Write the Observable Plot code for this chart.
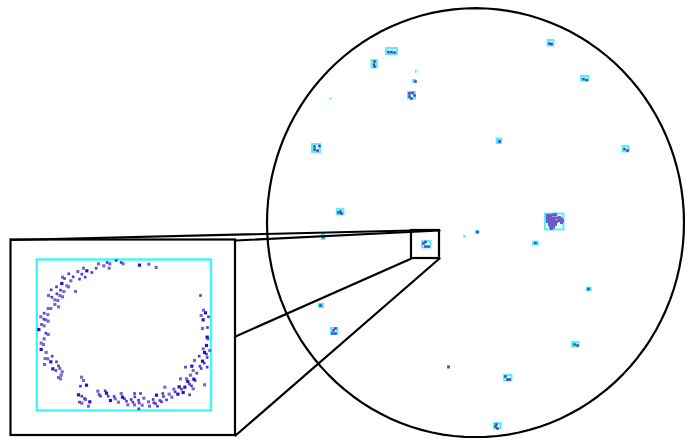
<!DOCTYPE html>
<html>
<head>
<meta charset="utf-8">
<script src="https://cdn.jsdelivr.net/npm/d3@7"></script>
<script src="https://cdn.jsdelivr.net/npm/@observablehq/plot@0.6"></script>
<style>html,body{margin:0;padding:0;background:#fff}svg{display:block}</style>
</head>
<body>
<script>
const pageWidth = 685, pageHeight = 438;
const outline = {cx: 475, cy: 222.2, rx: 208.5, ry: 214.5};
const frameX1 = [10.5, 411];
const frameX2 = [235, 439];
const frameY1 = [239.5, 230];
const frameY2 = [435, 258];
const insetBox = {x1: 36.8, x2: 211, y1: 259.5, y2: 410.5};
const connectors = [
  [[10.5,239.5],[411,230]],
  [[235,240],[439,230]],
  [[235,336],[411,258]],
  [[235,435],[439,258]]
];
// inset cells, read at 3x from origin (0,230)
const insetDark = [[417,104],[259,121],[184,159],[115,297],[122,357],[151,394],[157,415],[258,464],[318,488],[234,493],[366,500],[330,510],[268,514],[468,494],[532,491],[536,469],[553,470],[548,486],[562,453],[580,446],[574,407],[606,392],[612,366],[618,345],[620,320],[608,268],[615,247]];
const insetMid = [[347,90],[320,96],[362,96],[287,113],[244,131],[274,126],[205,130],[218,139],[254,140],[192,144],[237,146],[168,169],[152,178],[180,179],[225,183],[169,190],[154,200],[131,248],[130,266],[123,282],[136,308],[155,377],[168,394],[174,406],[166,420],[240,467],[314,481],[296,492],[300,497],[402,489],[420,489],[244,497],[252,504],[323,497],[341,498],[403,499],[372,505],[392,507],[414,509],[458,507],[237,515],[378,512],[397,515],[416,517],[460,517],[478,510],[483,514],[465,519],[471,527],[415,535],[498,508],[487,489],[489,498],[524,484],[543,476],[567,493],[567,461],[573,466],[584,450],[589,428],[555,410],[598,407],[602,414],[620,410],[611,398],[596,377],[620,381],[618,371],[621,291],[624,259],[600,195]];
const insetLight = [[294,100],[310,106],[328,100],[368,100],[445,101],[467,111],[326,113],[249,113],[232,123],[186,140],[211,151],[199,166],[204,169],[190,183],[178,195],[144,195],[186,199],[163,208],[172,210],[163,222],[174,229],[143,234],[151,234],[142,252],[121,259],[136,268],[143,272],[131,286],[143,312],[131,325],[122,338],[129,342],[137,366],[134,384],[142,385],[132,402],[178,414],[185,424],[182,434],[174,441],[180,445],[243,440],[249,450],[292,482],[362,489],[430,503],[344,505],[255,507],[244,518],[354,515],[444,514],[264,527],[382,523],[402,523],[425,524],[447,527],[506,491],[514,500],[520,476],[493,470],[540,445],[558,445],[578,475],[570,434],[612,463],[578,420],[582,390],[608,355],[628,360],[622,325],[606,294],[602,255],[609,239]];
// cyan clusters on the big circle: outlined boxes
const boxX1 = [386,371.5,408,312,545,422,547.5,581,504,622.5,572,337,331,494];
const boxX2 = [397,377,415,320,563.5,430.5,553.5,588.5,511.5,628.5,578.5,343.5,337.5,500.5];
const boxY1 = [48,60,92,144,213.5,241,40,76,375,146,342,209,328,423];
const boxY2 = [54,67.5,98.5,152,229.5,247.5,45.5,80.5,380.5,151.5,346.5,214.5,334,428.5];
// cyan specks: filled
const speckX1 = [415,412,329,532,463.3,475,495.7,586,447,321,318];
const speckX2 = [416.7,416,332,538.7,465.3,479.3,502,591.7,450,325,324];
const speckY1 = [70,79,98,240.7,235,230,137.7,286.7,365,233.3,303];
const speckY2 = [72.7,82.7,99.3,245.3,237.7,234,144,291,368.7,240,308];
const blueCells = [[388,51.5],[391,51.5],[394,52],[374,61],[373.5,64],[374,66],[409,93],[409,96],[412,92.5],[414,95],[411,98],[314,146],[314,149],[317,150],[319,145.5],[340,211],[338,212],[341,213],[323,236.5],[320,305],[333,330],[335,328],[335,333],[332,333],[423,243],[425,241.5],[425,246],[428,246],[499,141],[551,43.5],[549,43],[583,78.5],[586,79.5],[624,148.5],[627,150],[535,242.5],[477,231.5],[588,288.5],[574,344],[577,345],[448,366.5],[505,376],[507,379],[509,379],[496,424],[495,426],[497,428],[415,81]];
const blobCells = [[547,215],[550,215],[553,214.5],[555,214],[547,218],[550,218],[553,218],[556,217.5],[559,217],[561,218.5],[562,220],[547,221],[550,221],[553,221],[556,221],[559,220],[561,222],[549,224],[552,224],[555,224],[550,226.5],[553,226.5],[551,228]];

const px = d => d[0] / 3;
const py = d => 230 + d[1] / 3;
const t = d3.range(0, 361, 3).map(a => a * Math.PI / 180);
const ring = t.map(a => [outline.cx + outline.rx * Math.cos(a), outline.cy + outline.ry * Math.sin(a)]);
const cellSym = {draw(c, s) { const h = Math.sqrt(s) / 2; c.moveTo(-h, -h); c.lineTo(h, -h); c.lineTo(h, h); c.lineTo(-h, h); c.closePath(); }};

const plot = Plot.plot({
  width: pageWidth, height: pageHeight,
  margin: 0,
  x: {domain: [0, pageWidth], range: [0, pageWidth], axis: null},
  y: {domain: [0, pageHeight], range: [0, pageHeight], axis: null},
  style: {background: "#fff"},
  marks: [
    Plot.line(ring, {x: d => d[0], y: d => d[1], stroke: "#000", strokeWidth: 2.2}),
    Plot.rect(boxX1, {x1: (d,i) => boxX1[i], x2: (d,i) => boxX2[i], y1: (d,i) => boxY1[i], y2: (d,i) => boxY2[i], fill: "#e8fdfd", stroke: "#45f2f5", strokeWidth: 1.8}),
    Plot.rect(speckX1, {x1: (d,i) => speckX1[i], x2: (d,i) => speckX2[i], y1: (d,i) => speckY1[i], y2: (d,i) => speckY2[i], fill: "#45f2f5"}),
    Plot.dot(blobCells, {x: d => d[0], y: d => d[1], symbol: cellSym, r: 1.75, fill: "#6a5ccf"}),
    Plot.dot(blueCells, {x: d => d[0], y: d => d[1], symbol: cellSym, r: 1.45, fill: "#4a3fc4"}),
    Plot.rect(frameX1, {x1: (d,i) => frameX1[i], x2: (d,i) => frameX2[i], y1: (d,i) => frameY1[i], y2: (d,i) => frameY2[i], fill: "none", stroke: "#000", strokeWidth: 2.2}),
    connectors.map(c => Plot.line(c, {x: d => d[0], y: d => d[1], stroke: "#000", strokeWidth: 2.2})),
    Plot.rect([insetBox], {x1: "x1", x2: "x2", y1: "y1", y2: "y2", fill: "none", stroke: "#3ff8f8", strokeWidth: 2.4}),
    Plot.dot(insetLight, {x: px, y: py, symbol: cellSym, r: 1.75, fill: "#7468cf"}),
    Plot.dot(insetMid, {x: px, y: py, symbol: cellSym, r: 1.5, fill: "#4a3fc6"}),
    Plot.dot(insetDark, {x: px, y: py, symbol: cellSym, r: 1.8, fill: "#2315bb"})
  ]
});
document.body.appendChild(plot);
</script>
</body>
</html>
